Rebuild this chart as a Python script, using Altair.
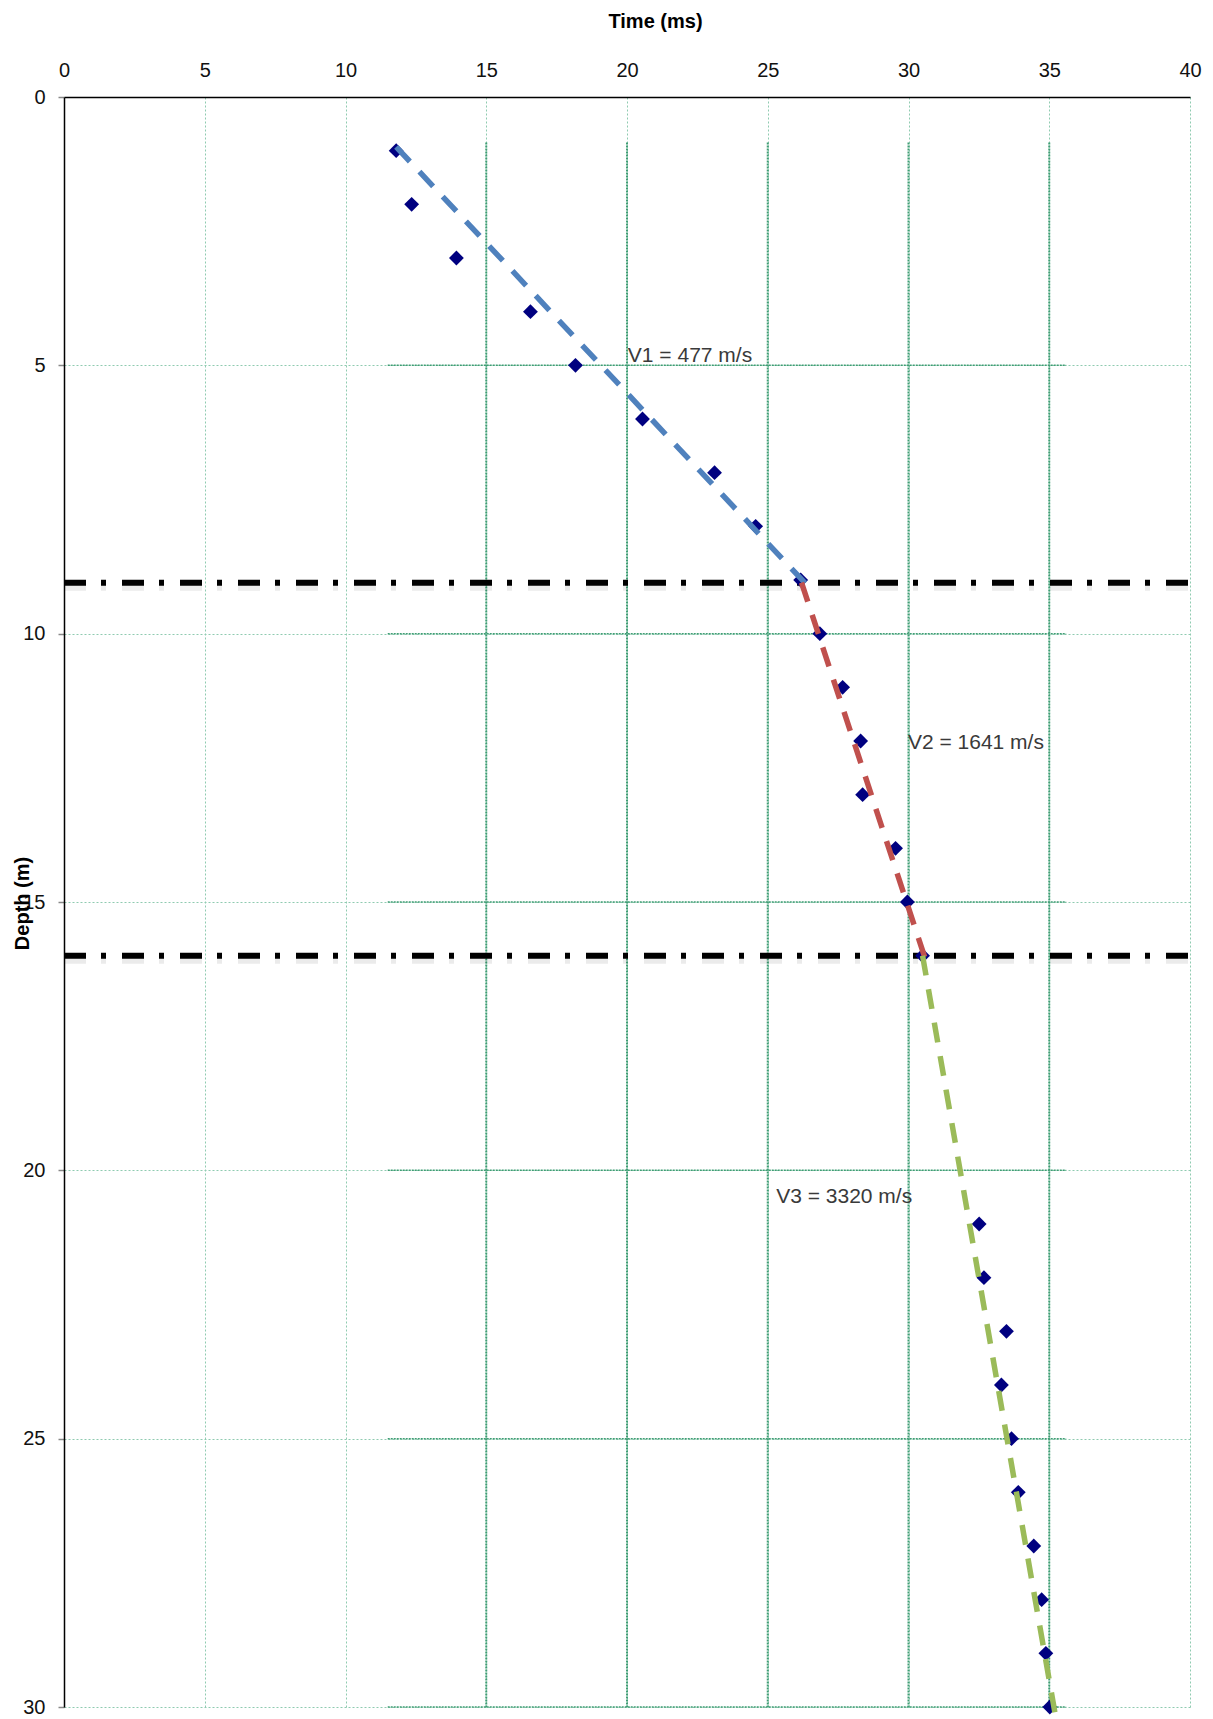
import altair as alt
import pandas as pd

# ---- data ----
depth = [1, 2, 3, 4, 5, 6, 7, 8, 9, 10, 11, 12, 13, 14, 15, 16,
         21, 22, 23, 24, 25, 26, 27, 28, 29, 30]
time = [11.8, 12.35, 13.94, 16.57, 18.17, 20.55, 23.11, 24.57, 26.17, 26.85,
        27.66, 28.3, 28.37, 29.54, 29.96, 30.5,
        32.51, 32.68, 33.48, 33.3, 33.66, 33.9, 34.45, 34.73, 34.88, 35.02]

fit_name = ["V1", "V2", "V3"]
fit_t1 = [11.8, 26.2, 30.5]
fit_d1 = [0.93, 9.05, 16.0]
fit_t2 = [26.35, 30.62, 35.2]
fit_d2 = [9.07, 16.1, 30.1]
fit_colors = ["#4f81bd", "#c0504d", "#9bbb59"]

boundary_depth = [9.05, 16.0]

label_text = ["V1 = 477 m/s", "V2 = 1641 m/s", "V3 = 3320 m/s"]
label_time = [20.03, 29.98, 25.3]
label_depth = [4.93, 12.15, 20.6]

x_ticks = [0, 5, 10, 15, 20, 25, 30, 35, 40]
y_ticks = [0, 5, 10, 15, 20, 25, 30]
inner_x = [15, 20, 25, 30, 35]
inner_y = [5, 10, 15, 20, 25, 30]

FONT = "Liberation Sans"
W, H = 1126, 1610

xs = alt.Scale(domain=[0, 40], nice=False, zero=False)
ys = alt.Scale(domain=[0, 30], nice=False, zero=False, reverse=True)

x_axis = alt.Axis(orient="top", values=x_ticks, title="Time (ms)", ticks=False,
                  labelPadding=17, labelFontSize=20, labelFont=FONT, labelColor="#111111",
                  labelFlush=False, labelOverlap=False,
                  domainColor="#000000", domainWidth=1.5,
                  grid=True, gridColor="#8fcbb0", gridDash=[2, 2], gridWidth=1,
                  titleFont=FONT, titleFontSize=20, titleFontWeight="bold", titleColor="#000000",
                  titleX=591, titleY=-76, titleBaseline="middle", titleAlign="center")
y_axis = alt.Axis(orient="left", values=y_ticks, title="Depth (m)",
                  ticks=True, tickSize=6, tickColor="#888888", tickWidth=1.5,
                  labelPadding=13, labelFontSize=20, labelFont=FONT, labelColor="#111111",
                  labelFlush=False, labelOverlap=False,
                  domainColor="#000000", domainWidth=1.5,
                  grid=True, gridColor="#8fcbb0", gridDash=[2, 2], gridWidth=1,
                  titleFont=FONT, titleFontSize=20, titleFontWeight="bold", titleColor="#000000",
                  titleX=-42, titleY=806, titleBaseline="middle", titleAlign="center", titleAngle=-90)


def X(field):
    return alt.X(field, type="quantitative", scale=xs, axis=x_axis, title="Time (ms)")


def Y(field):
    return alt.Y(field, type="quantitative", scale=ys, axis=y_axis, title="Depth (m)")


pts = pd.DataFrame({"t": time, "d": depth})
vgrid = pd.DataFrame({"t": inner_x, "d": [0.85] * len(inner_x), "d2": [30] * len(inner_x)})
hgrid = pd.DataFrame({"d": inner_y, "t": [11.5] * len(inner_y), "t2": [35.6] * len(inner_y)})
bounds = pd.DataFrame({"d": boundary_depth, "t": [0] * 2, "t2": [40.1] * 2})
fits = pd.DataFrame({"name": fit_name, "t": fit_t1, "d": fit_d1, "t2": fit_t2, "d2": fit_d2})
labels = pd.DataFrame({"txt": label_text, "t": label_time, "d": label_depth})

vg = alt.Chart(vgrid).mark_rule(color="#3f9d74", strokeWidth=2, strokeDash=[2, 1]).encode(
    x=X("t"), y=Y("d"), y2="d2")
hg = alt.Chart(hgrid).mark_rule(color="#3f9d74", strokeWidth=1.5, strokeDash=[2, 1]).encode(
    y=Y("d"), x=X("t"), x2="t2")

shadow = alt.Chart(bounds).mark_rule(color="#000000", opacity=0.08, strokeWidth=10,
                                     yOffset=3, strokeDash=[22, 15, 5, 16]).encode(
    y=Y("d"), x=X("t"), x2="t2")
dashdot = alt.Chart(bounds).mark_rule(color="#000000", strokeWidth=6,
                                      strokeDash=[22, 15, 5, 16]).encode(
    y=Y("d"), x=X("t"), x2="t2")

points = alt.Chart(pts).mark_point(shape="diamond", filled=True, color="#000080",
                                   size=220, opacity=1).encode(x=X("t"), y=Y("d"))

fitlines = alt.Chart(fits).mark_rule(strokeWidth=5.5, strokeDash=[20, 14], strokeCap="butt").encode(
    x=X("t"), y=Y("d"), x2="t2", y2="d2",
    color=alt.Color("name:N", scale=alt.Scale(domain=fit_name, range=fit_colors), legend=None))

texts = alt.Chart(labels).mark_text(align="left", baseline="alphabetic", fontSize=21,
                                    font=FONT, color="#3a3a3a").encode(
    x=X("t"), y=Y("d"), text="txt:N")

chart = alt.layer(vg, hg, shadow, dashdot, points, fitlines, texts).properties(
    width=W, height=H,
    autosize=alt.AutoSizeParams(type="none"),
    padding={"left": 56, "top": 89, "right": 15, "bottom": 10},
    background="white",
).configure_view(stroke=None)

chart.save("out.html", embed_options={"renderer": "svg", "actions": False})
